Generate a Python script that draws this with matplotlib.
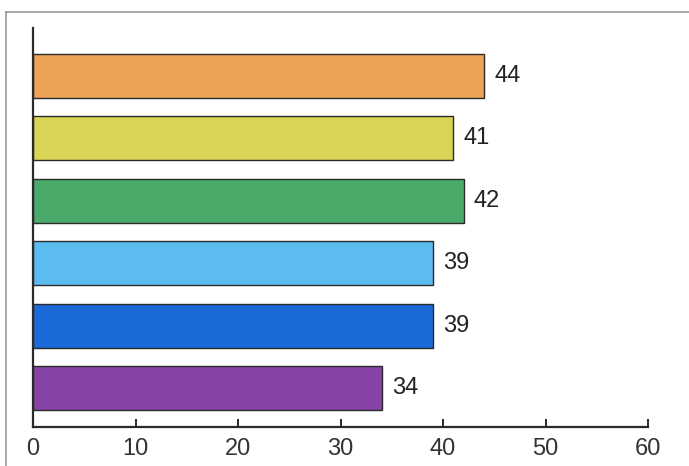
import matplotlib
matplotlib.use('Agg')
import matplotlib.pyplot as plt
from matplotlib.lines import Line2D

# values, bottom to top
values = [34, 39, 39, 42, 41, 44]
colors = ['#8843a6', '#1c6ad8', '#5cbcf0', '#4aaa6a', '#d9d455', '#eba457']
labels = [str(v) for v in values]
xticks = [0, 10, 20, 30, 40, 50, 60]

plt.rcParams['font.family'] = ['Liberation Sans', 'DejaVu Sans']

W, H = 689, 466
fig = plt.figure(figsize=(W / 100, H / 100), dpi=100)
ax = fig.add_axes([33 / W, 1 - 427 / H, (648 - 33) / W, (427 - 28) / H])

pos = list(range(len(values)))
ax.barh(pos, values, height=0.705, color=colors, edgecolor='#2a2a2a', linewidth=1.0)

for p, v, lab in zip(pos, values, labels):
    ax.text(v + 1.0, p, lab, va='center', ha='left', fontsize=17, color='#222222')

ax.set_xlim(0, 60)
ax.set_ylim(-0.625, 5.77)
ax.set_xticks(xticks)
ax.set_yticks([])
ax.tick_params(axis='x', direction='in', length=6, width=1.4, labelsize=17,
               pad=8, colors='#2a2a2a', labelcolor='#333333')
for s in ['top', 'right']:
    ax.spines[s].set_visible(False)
for s in ['left', 'bottom']:
    ax.spines[s].set_linewidth(1.6)
    ax.spines[s].set_color('#2a2a2a')

# outer frame (top and left edges of the scanned box)
fig.add_artist(Line2D([6 / W, 1], [1 - 12 / H, 1 - 12 / H], color='#999999', lw=1.2))
fig.add_artist(Line2D([6 / W, 6 / W], [0, 1 - 12 / H], color='#999999', lw=1.2))

fig.savefig('out.png', dpi=100, facecolor='white')
